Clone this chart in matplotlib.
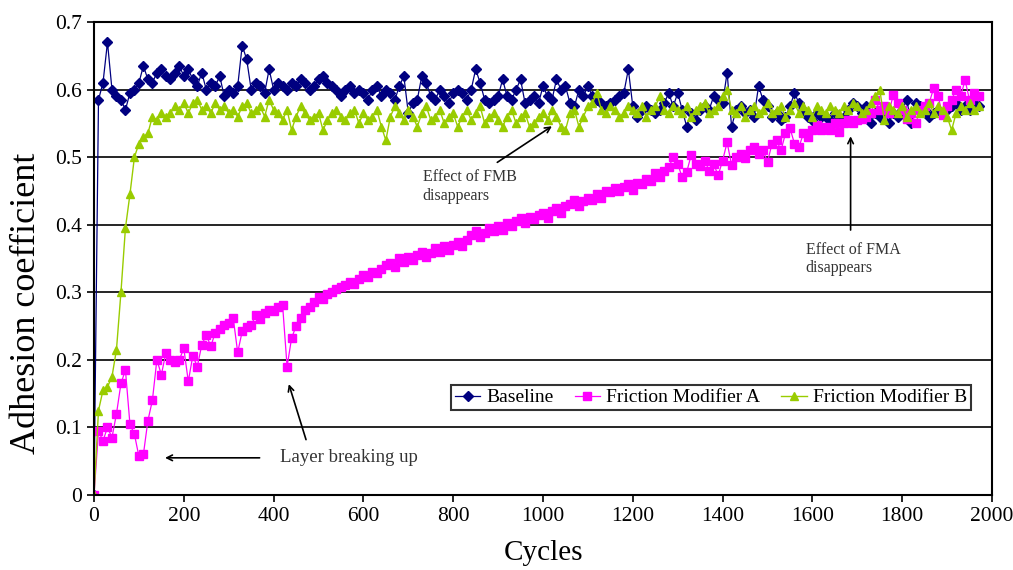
import numpy as np
import matplotlib
matplotlib.use("Agg")
import matplotlib.pyplot as plt

# adhesion coefficient read every 10 cycles (0 .. 1970)
baseline = [
    0.0, 0.585, 0.61, 0.67, 0.60, 0.59, 0.585, 0.57, 0.595, 0.60,
    0.61, 0.635, 0.615, 0.61, 0.625, 0.63, 0.62, 0.615, 0.625, 0.635,
    0.62, 0.63, 0.615, 0.605, 0.625, 0.60, 0.61, 0.605, 0.62, 0.59,
    0.60, 0.595, 0.605, 0.665, 0.645, 0.60, 0.61, 0.605, 0.595, 0.63,
    0.60, 0.61, 0.605, 0.60, 0.61, 0.605, 0.615, 0.61, 0.60, 0.605,
    0.615, 0.62, 0.61, 0.605, 0.60, 0.59, 0.60, 0.605, 0.595, 0.60,
    0.595, 0.585, 0.60, 0.605, 0.59, 0.60, 0.595, 0.585, 0.605, 0.62,
    0.565, 0.58, 0.585, 0.62, 0.61, 0.59, 0.585, 0.60, 0.59, 0.58,
    0.595, 0.60, 0.595, 0.585, 0.60, 0.63, 0.61, 0.585, 0.58, 0.585,
    0.59, 0.615, 0.59, 0.585, 0.60, 0.615, 0.58, 0.585, 0.59, 0.58,
    0.605, 0.59, 0.585, 0.615, 0.60, 0.605, 0.58, 0.575, 0.60, 0.59,
    0.605, 0.59, 0.585, 0.58, 0.575, 0.58, 0.585, 0.59, 0.595, 0.63,
    0.575, 0.56, 0.57, 0.575, 0.57, 0.565, 0.57, 0.58, 0.595, 0.575,
    0.595, 0.57, 0.545, 0.565, 0.555, 0.57, 0.575, 0.57, 0.59, 0.585,
    0.58, 0.625, 0.545, 0.57, 0.575, 0.565, 0.57, 0.56, 0.605, 0.585,
    0.575, 0.56, 0.565, 0.555, 0.56, 0.575, 0.595, 0.58, 0.57, 0.56,
    0.555, 0.565, 0.56, 0.56, 0.555, 0.565, 0.56, 0.56, 0.57, 0.58,
    0.575, 0.565, 0.575, 0.55, 0.565, 0.56, 0.57, 0.55, 0.565, 0.56,
    0.57, 0.585, 0.55, 0.58, 0.575, 0.57, 0.56, 0.565, 0.57, 0.565,
    0.57, 0.575, 0.58, 0.57, 0.575, 0.57, 0.58, 0.575,
]

modifier_a = [
    0.0, 0.095, 0.08, 0.10, 0.085, 0.12, 0.165, 0.185, 0.105, 0.09,
    0.057, 0.06, 0.11, 0.14, 0.20, 0.178, 0.21, 0.20, 0.197, 0.20,
    0.217, 0.168, 0.206, 0.19, 0.222, 0.237, 0.22, 0.24, 0.245, 0.251,
    0.255, 0.262, 0.211, 0.242, 0.248, 0.251, 0.266, 0.26, 0.27, 0.274,
    0.272, 0.278, 0.281, 0.19, 0.232, 0.25, 0.262, 0.274, 0.278, 0.286,
    0.293, 0.29, 0.298, 0.30, 0.305, 0.308, 0.311, 0.315, 0.312, 0.32,
    0.325, 0.322, 0.33, 0.328, 0.335, 0.34, 0.343, 0.338, 0.35, 0.345,
    0.352, 0.348, 0.355, 0.36, 0.352, 0.358, 0.365, 0.36, 0.368, 0.362,
    0.37, 0.375, 0.368, 0.378, 0.385, 0.39, 0.382, 0.388, 0.395, 0.39,
    0.398, 0.392, 0.402, 0.398, 0.405, 0.41, 0.402, 0.412, 0.408, 0.415,
    0.418, 0.41, 0.42, 0.425, 0.418, 0.428, 0.43, 0.436, 0.428, 0.435,
    0.44, 0.436, 0.445, 0.44, 0.45, 0.448, 0.455, 0.45, 0.456, 0.46,
    0.452, 0.462, 0.46, 0.468, 0.465, 0.476, 0.47, 0.48, 0.485, 0.50,
    0.49, 0.47, 0.478, 0.503, 0.49, 0.487, 0.495, 0.48, 0.49, 0.473,
    0.495, 0.522, 0.488, 0.50, 0.505, 0.498, 0.51, 0.515, 0.505, 0.51,
    0.493, 0.52, 0.525, 0.51, 0.535, 0.543, 0.52, 0.515, 0.535, 0.53,
    0.54, 0.547, 0.54, 0.545, 0.54, 0.55, 0.537, 0.55, 0.555, 0.55,
    0.555, 0.557, 0.56, 0.565, 0.584, 0.57, 0.575, 0.565, 0.592, 0.58,
    0.57, 0.557, 0.565, 0.55, 0.57, 0.575, 0.58, 0.602, 0.59, 0.562,
    0.575, 0.585, 0.60, 0.59, 0.614, 0.584, 0.595, 0.59,
]

modifier_b = [
    0.0, 0.125, 0.155, 0.16, 0.175, 0.215, 0.30, 0.395, 0.445, 0.50,
    0.52, 0.53, 0.535, 0.56, 0.555, 0.565, 0.56, 0.565, 0.575, 0.57,
    0.58, 0.565, 0.58, 0.585, 0.57, 0.575, 0.565, 0.58, 0.57, 0.575,
    0.565, 0.57, 0.56, 0.575, 0.58, 0.565, 0.57, 0.575, 0.56, 0.585,
    0.57, 0.565, 0.555, 0.57, 0.54, 0.56, 0.575, 0.565, 0.555, 0.56,
    0.565, 0.54, 0.555, 0.565, 0.57, 0.56, 0.555, 0.565, 0.57, 0.55,
    0.565, 0.555, 0.56, 0.57, 0.545, 0.525, 0.56, 0.575, 0.565, 0.555,
    0.57, 0.56, 0.545, 0.565, 0.575, 0.555, 0.56, 0.57, 0.55, 0.56,
    0.565, 0.545, 0.56, 0.57, 0.555, 0.565, 0.575, 0.55, 0.56, 0.565,
    0.555, 0.545, 0.56, 0.57, 0.55, 0.56, 0.565, 0.545, 0.55, 0.56,
    0.565, 0.555, 0.57, 0.56, 0.545, 0.54, 0.565, 0.57, 0.545, 0.56,
    0.575, 0.58, 0.595, 0.57, 0.565, 0.575, 0.57, 0.56, 0.565, 0.575,
    0.57, 0.565, 0.575, 0.56, 0.57, 0.575, 0.59, 0.57, 0.565, 0.575,
    0.57, 0.565, 0.575, 0.56, 0.57, 0.575, 0.58, 0.565, 0.57, 0.575,
    0.59, 0.60, 0.57, 0.565, 0.575, 0.56, 0.57, 0.575, 0.565, 0.57,
    0.58, 0.565, 0.57, 0.575, 0.56, 0.57, 0.58, 0.565, 0.575, 0.57,
    0.56, 0.575, 0.57, 0.565, 0.575, 0.57, 0.565, 0.575, 0.57, 0.58,
    0.575, 0.565, 0.57, 0.58, 0.59, 0.60, 0.555, 0.575, 0.57, 0.565,
    0.575, 0.56, 0.57, 0.575, 0.565, 0.57, 0.58, 0.565, 0.575, 0.57,
    0.56, 0.54, 0.565, 0.575, 0.57, 0.58, 0.57, 0.575,
]

x_ticks = [0, 200, 400, 600, 800, 1000, 1200, 1400, 1600, 1800, 2000]
y_ticks = [0, 0.1, 0.2, 0.3, 0.4, 0.5, 0.6, 0.7]
y_labels = ["0", "0.1", "0.2", "0.3", "0.4", "0.5", "0.6", "0.7"]

plt.rcParams['font.family'] = ['Liberation Serif', 'DejaVu Serif']

fig = plt.figure(figsize=(10.13, 5.70), dpi=100)
ax = fig.add_axes([0.0928, 0.1316, 0.8865, 0.8298])

ax.plot(10 * np.arange(len(baseline)), baseline, color='#000080', marker='D',
        markersize=4.8, linewidth=0.9, label='Baseline')
ax.plot(10 * np.arange(len(modifier_a)), modifier_a, color='#FF00FF', marker='s',
        markersize=5.8, linewidth=0.9, label='Friction Modifier A')
ax.plot(10 * np.arange(len(modifier_b)), modifier_b, color='#99CC00', marker='^',
        markersize=5.8, linewidth=1.0, label='Friction Modifier B')

ax.set_xlim(0, 2000)
ax.set_ylim(0, 0.7)
ax.set_xticks(x_ticks)
ax.set_yticks(y_ticks)
ax.set_yticklabels(y_labels)
ax.tick_params(labelsize=15.5, direction='out', length=5, width=1.2)
ax.yaxis.grid(True, color='black', linewidth=1.2)
ax.set_axisbelow(True)
for s in ax.spines.values():
    s.set_linewidth(1.5)
    s.set_color('black')

ax.set_xlabel('Cycles', fontsize=21)
ax.xaxis.set_label_coords(0.5, -0.095)
ax.set_ylabel('Adhesion coefficient', fontsize=26)
ax.yaxis.set_label_coords(-0.057, 0.405)

leg = ax.legend(loc='center', bbox_to_anchor=(0.687, 0.206), ncol=3, fontsize=14,
                frameon=True, fancybox=False, edgecolor='black', handlelength=1.3,
                handletextpad=0.3, columnspacing=1.1, borderpad=0.2,
                borderaxespad=0)
leg.get_frame().set_linewidth(1.5)

# annotations
arrow = dict(arrowstyle='->', color='black', lw=1.2)
ax.annotate('', xy=(1025, 0.548), xytext=(893, 0.49), arrowprops=arrow)
ax.text(732, 0.482, 'Effect of FMB\ndisappears', fontsize=11.5, va='top', ha='left',
        color='#333333', linespacing=1.2)

ax.annotate('', xy=(1685, 0.535), xytext=(1685, 0.388), arrowprops=arrow)
ax.text(1585, 0.375, 'Effect of FMA\ndisappears', fontsize=11.5, va='top', ha='left',
        color='#333333', linespacing=1.2)

ax.annotate('', xy=(152, 0.055), xytext=(375, 0.055), arrowprops=arrow)
ax.annotate('', xy=(432, 0.168), xytext=(474, 0.078), arrowprops=arrow)
ax.text(414, 0.055, 'Layer breaking up', fontsize=13.5, va='center', ha='left',
        color='#333333')

fig.savefig('out.png', dpi=100)
